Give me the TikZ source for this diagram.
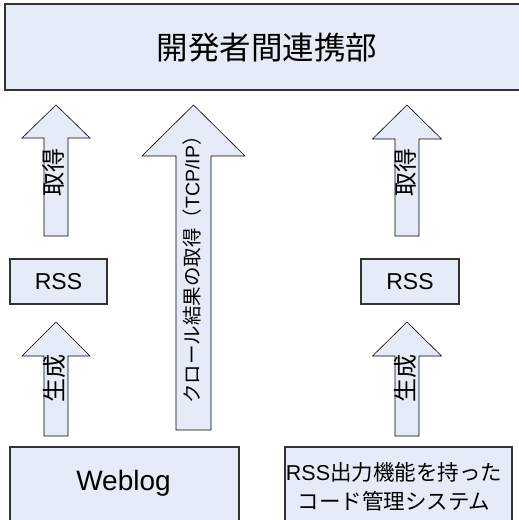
\documentclass[tikz,border=0pt]{standalone}
\usepackage{fontspec}
\setmainfont{Liberation Sans}
\newfontfamily\cjk{Noto Sans CJK JP}
\definecolor{boxfill}{RGB}{230,236,247}
\begin{document}
\begin{tikzpicture}[x=1bp,y=-1bp,
  boxstyle/.style={draw=black!80,line width=1.1bp,fill=boxfill},
  blockarrow/.style={draw=black,line width=0.6bp,fill=boxfill,line join=miter},
  lbl/.style={inner sep=0pt,text=black}]
\useasboundingbox (0,0) rectangle (519,520);
\clip (0,0) rectangle (519,520);
% boxes
\draw[boxstyle] (5,4) rectangle (529,90);
\node[lbl] (top) at (267,48) {\cjk\fontsize{31.5bp}{34bp}\selectfont 開発者間連携部};
\draw[boxstyle] (10,259) rectangle (107,304);
\node[lbl] (rssL) at (58.5,281.5) {\fontsize{23bp}{26bp}\selectfont RSS};
\draw[boxstyle] (361,259) rectangle (459,304);
\node[lbl] (rssR) at (410,281.5) {\fontsize{23bp}{26bp}\selectfont RSS};
\draw[boxstyle] (10,447) rectangle (239,540);
\node[lbl] (weblog) at (123.5,483) {\fontsize{28bp}{30bp}\selectfont Weblog};
\draw[boxstyle] (285,447) rectangle (512,540);
\node[lbl,align=center,font=\fontsize{21.5bp}{29bp}\selectfont] (code) at (394,487) {RSS{\cjk 出力機能を持った}\\{\cjk コード管理システム}};
% block arrows
\draw[blockarrow] (56,105) -- (90,138) -- (68,138) -- (68,236) -- (44,236) -- (44,138) -- (22,138) -- cycle;
\node[lbl,rotate=90] (getL) at (53,172) {\cjk\fontsize{24bp}{26bp}\selectfont 取得};
\draw[blockarrow] (193.5,105) -- (245,156) -- (211,156) -- (211,430) -- (176,430) -- (176,156) -- (142,156) -- cycle;
\node[lbl,rotate=90] (crawl) at (192,265) {\fontsize{19.5bp}{22bp}\selectfont{\cjk クロール結果の取得（}TCP/IP{\cjk ）}};
\draw[blockarrow] (407,105) -- (441.5,139) -- (419,139) -- (419,236) -- (395,236) -- (395,139) -- (372.5,139) -- cycle;
\node[lbl,rotate=90] (getR) at (405,172) {\cjk\fontsize{24bp}{26bp}\selectfont 取得};
\draw[blockarrow] (56,322) -- (90,356) -- (68,356) -- (68,436) -- (44,436) -- (44,356) -- (22,356) -- cycle;
\node[lbl,rotate=90] (genL) at (54,378) {\cjk\fontsize{24bp}{26bp}\selectfont 生成};
\draw[blockarrow] (407,322) -- (441.5,356) -- (419,356) -- (419,436) -- (395,436) -- (395,356) -- (372.5,356) -- cycle;
\node[lbl,rotate=90] (genR) at (405,378) {\cjk\fontsize{24bp}{26bp}\selectfont 生成};
\end{tikzpicture}
\end{document}
